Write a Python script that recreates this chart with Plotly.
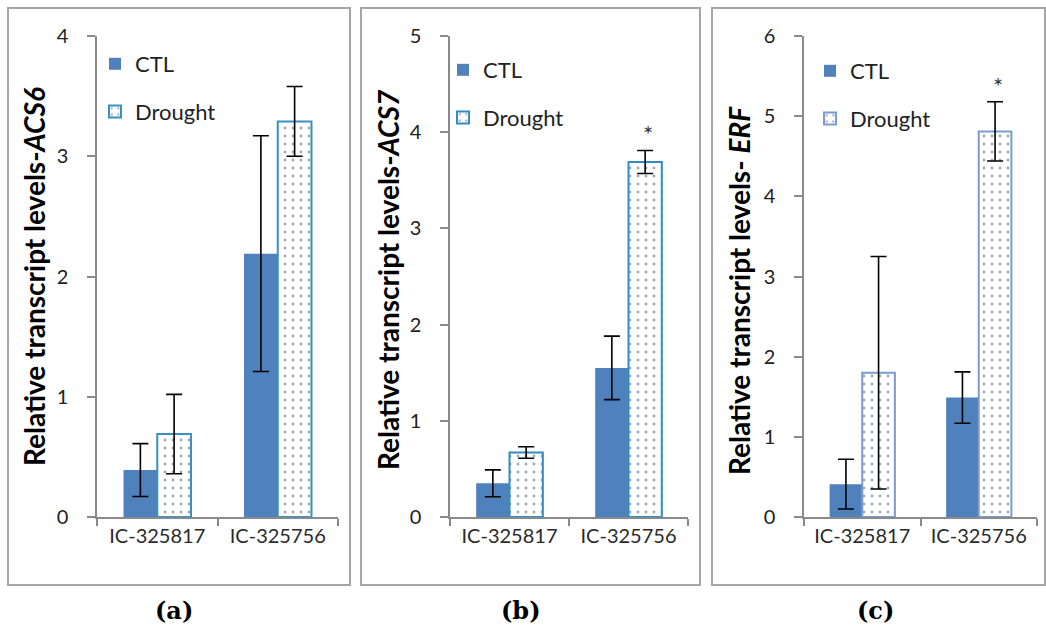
import plotly.graph_objects as go

# ---------------- data ----------------
categories = ["IC-325817", "IC-325756"]
series_names = ["CTL", "Drought"]

acs6_ctl = [0.39, 2.19]
acs6_ctl_err = [0.22, 0.98]
acs6_drought = [0.69, 3.29]
acs6_drought_err = [0.33, 0.29]

acs7_ctl = [0.35, 1.55]
acs7_ctl_err = [0.14, 0.33]
acs7_drought = [0.67, 3.69]
acs7_drought_err = [0.06, 0.12]

erf_ctl = [0.41, 1.49]
erf_ctl_err = [0.31, 0.32]
erf_drought = [1.80, 4.81]
erf_drought_err = [1.45, 0.37]

significance = {"b": [None, "*"], "c": [None, "*"]}

y_max = [4, 5, 6]
panel_labels = ["(a)", "(b)", "(c)"]
y_titles = [
    "<b>Relative transcript levels-<i>ACS6</i></b>",
    "<b>Relative transcript levels-<i>ACS7</i></b>",
    "<b>Relative transcript levels- <i>ERF</i></b>",
]

# ---------------- style ----------------
W, H = 1046, 629
CTL_COLOR = "#4F81BD"
DOT_COLOR = "#3d5566"
OUTLINE = ["#3a90bf", "#2f8cc4", "#7a9ccf"]
AXIS_COLOR = "#8a8a8a"
FRAME_COLOR = "#a6a6a6"
FONT = "Lato"


def px_x(p):
    return p / W


def px_y(p):
    return 1 - p / H


# pixel geometry of each panel
x_dom_px = [(97, 338), (450, 688), (804, 1037)]
y_dom_px = (517, 36)
frames_px = [(8, 350), (361, 700), (712, 1045)]
frame_y_px = (8, 585)
title_x_px = [34, 388, 739]
title_y_px = [277, 280, 291]
label_x_px = [174, 521, 875]
legend_pos_px = [(95, 43), (443, 49), (810, 50)]

panels = [
    (acs6_ctl, acs6_ctl_err, acs6_drought, acs6_drought_err, None),
    (acs7_ctl, acs7_ctl_err, acs7_drought, acs7_drought_err, significance["b"]),
    (erf_ctl, erf_ctl_err, erf_drought, erf_drought_err, significance["c"]),
]

fig = go.Figure()
annotations = []
shapes = []

for i, (c_vals, c_err, d_vals, d_err, sig) in enumerate(panels):
    xa = "x" if i == 0 else f"x{i+1}"
    ya = "y" if i == 0 else f"y{i+1}"
    leg = "legend" if i == 0 else f"legend{i+1}"
    fig.add_trace(go.Bar(
        x=categories, y=c_vals, name=series_names[0],
        marker=dict(color=CTL_COLOR, line=dict(width=0)),
        error_y=dict(type="data", array=c_err, color="black", thickness=1.6, width=8),
        xaxis=xa, yaxis=ya, legend=leg, legendgroup=f"{i}ctl",
    ))
    fig.add_trace(go.Bar(
        x=categories, y=d_vals, name=series_names[1],
        marker=dict(
            color="white",
            line=dict(color=OUTLINE[i], width=2),
            pattern=dict(shape=".", size=8, solidity=0.1,
                         fgcolor=DOT_COLOR, bgcolor="white", fillmode="overlay"),
        ),
        error_y=dict(type="data", array=d_err, color="black", thickness=1.6, width=8),
        xaxis=xa, yaxis=ya, legend=leg, legendgroup=f"{i}dro",
    ))
    if sig:
        for cat, v, e, s in zip(categories, d_vals, d_err, sig):
            if s:
                annotations.append(dict(
                    x=cat, y=v + e, xref=xa, yref=ya, text=s, showarrow=False,
                    xshift=19, yanchor="bottom", yshift=0,
                    font=dict(family=FONT, size=24, color="#333"),
                ))

    x0, x1 = x_dom_px[i]
    axis_x = dict(
        domain=[px_x(x0), px_x(x1)], anchor=ya, type="category",
        showline=True, linecolor=AXIS_COLOR, linewidth=1.5,
        ticks="outside", tickson="boundaries", ticklen=7, tickcolor=AXIS_COLOR,
        tickwidth=1.5, showgrid=False, zeroline=False, automargin=False,
        tickfont=dict(family=FONT, size=20, color="#2a2a2a"),
        fixedrange=True,
    )
    axis_y = dict(
        domain=[px_y(y_dom_px[0]), px_y(y_dom_px[1])], anchor=xa,
        range=[0, y_max[i]], dtick=1, tick0=0,
        showline=True, linecolor=AXIS_COLOR, linewidth=1.5,
        ticks="outside", ticklen=8, tickcolor=AXIS_COLOR, tickwidth=1.5,
        ticklabelstandoff=15, automargin=False,
        showgrid=False, zeroline=False,
        tickfont=dict(family=FONT, size=20, color="#222"),
        fixedrange=True,
    )
    fig.layout[f"xaxis{'' if i == 0 else i+1}"] = axis_x
    fig.layout[f"yaxis{'' if i == 0 else i+1}"] = axis_y

    lx, ly = legend_pos_px[i]
    fig.layout[leg] = dict(
        x=px_x(lx), y=px_y(ly), xanchor="left", yanchor="top",
        xref="paper", yref="paper",
        bgcolor="rgba(0,0,0,0)", borderwidth=0,
        font=dict(family=FONT, size=22, color="#222"),
        traceorder="grouped", tracegroupgap=16, itemwidth=30,
    )

    # y-axis title
    annotations.append(dict(
        x=px_x(title_x_px[i]), y=px_y(title_y_px[i]), xref="paper", yref="paper",
        text=y_titles[i], textangle=-90, showarrow=False,
        xanchor="center", yanchor="middle",
        font=dict(family=FONT, size=28, color="black"),
    ))
    # panel label
    annotations.append(dict(
        x=px_x(label_x_px[i]), y=px_y(610), xref="paper", yref="paper",
        text=f"<b>{panel_labels[i]}</b>", showarrow=False,
        xanchor="center", yanchor="middle",
        font=dict(family="DejaVu Serif", size=24, color="black"),
    ))
    # panel frame
    fx0, fx1 = frames_px[i]
    shapes.append(dict(
        type="rect", xref="paper", yref="paper",
        x0=px_x(fx0), x1=px_x(fx1), y0=px_y(frame_y_px[1]), y1=px_y(frame_y_px[0]),
        line=dict(color=FRAME_COLOR, width=2), fillcolor="rgba(0,0,0,0)", layer="below",
    ))

fig.update_layout(
    width=W, height=H,
    margin=dict(l=0, r=0, t=0, b=0, pad=0, autoexpand=False),
    paper_bgcolor="white", plot_bgcolor="white",
    barmode="group", bargap=0.44, bargroupgap=0,
    annotations=annotations, shapes=shapes,
    showlegend=True,
)

fig.write_html("out.html")
